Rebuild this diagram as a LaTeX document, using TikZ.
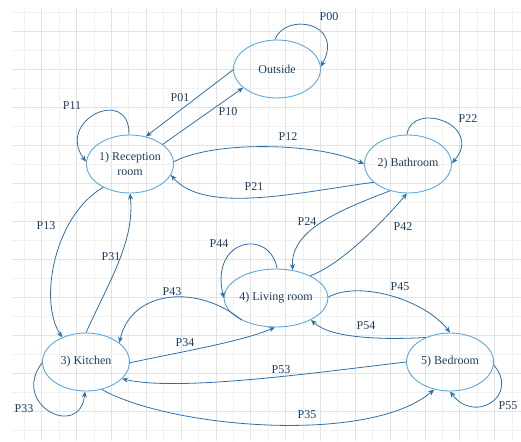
\documentclass[tikz,border=0pt]{standalone}
\usepackage{fontspec}
\setmainfont{Liberation Serif}
\usetikzlibrary{arrows.meta,shapes.geometric}
\definecolor{ellc}{HTML}{5DA9DD}
\definecolor{arrc}{HTML}{2F6FA8}
\definecolor{txtc}{HTML}{1F3D63}
\definecolor{gmin}{HTML}{F1F1F1}
\definecolor{gmaj}{HTML}{E2E2E2}
\begin{document}
\begin{tikzpicture}[x=1pt,y=-1pt,
  state/.style={ellipse,draw=ellc,line width=0.9pt,minimum width=87pt,minimum height=58pt,inner sep=0pt,text=txtc,font=\fontsize{12}{15}\selectfont,align=center},
  tr/.style={draw=arrc,line width=0.8pt,-{Stealth[length=6pt,width=5pt]}},
  lbl/.style={text=txtc,font=\fontsize{12}{13}\selectfont,inner sep=0pt}]
\useasboundingbox (0,0) rectangle (521,441);
% grid
\foreach \k in {0,...,28}{%
  \ifodd\k
    \draw[gmaj,line width=0.8pt] ({24.3+17.42*\k},8) -- ({24.3+17.42*\k},441);
  \else
    \draw[gmin,line width=0.8pt] ({24.3+17.42*\k},8) -- ({24.3+17.42*\k},441);
  \fi}
\foreach \k in {0,...,22}{%
  \ifodd\k
    \draw[gmaj,line width=0.8pt] (12,{12+19*\k}) -- (521,{12+19*\k});
  \else
    \draw[gmin,line width=0.8pt] (12,{12+19*\k}) -- (521,{12+19*\k});
  \fi}
% states
\node[state] (o) at (277,69) {Outside};
\node[state] (r) at (130,164) {1) Reception\\room};
\node[state] (b) at (408,164) {2) Bathroom};
\node[state] (k) at (86,362) {3) Kitchen};
\node[state] (l) at (276,298) {4) Living room};
\node[state] (d) at (450,362) {5) Bedroom};
% transitions
\draw[tr] (o.94) .. controls (285,12) and (345,22) .. (o.3);
\draw[tr] (o.181) -- (r.60);
\draw[tr] (r.31) -- (o.209);
\draw[tr] (r.92) .. controls (130,85) and (55,120) .. (r.177);
\draw[tr] (r.3) .. controls (215,140) and (320,143) .. (b.180);
\draw[tr] (b.208) .. controls (300,192) and (205,215) .. (r.345);
\draw[tr] (b.92) .. controls (412,100) and (485,125) .. (b.1);
\draw[tr] (r.221) .. controls (55,215) and (38,300) .. (k.134);
\draw[tr] (k.90) .. controls (110,280) and (135,240) .. (r.270);
\draw[tr] (b.236) .. controls (340,210) and (290,230) .. (l.59);
\draw[tr] (l.33) .. controls (340,265) and (380,225) .. (b.268);
\draw[tr] (l.88) .. controls (270,228) and (210,238) .. (l.180);
\draw[tr] (l.213) .. controls (200,285) and (132,288) .. (k.30);
\draw[tr] (k.359) .. controls (180,352) and (240,342) .. (l.268);
\draw[tr] (l.1) .. controls (360,280) and (425,300) .. (d.90);
\draw[tr] (d.135) .. controls (380,340) and (330,338) .. (l.328);
\draw[tr] (d.180) .. controls (320,372) and (180,392) .. (k.335);
\draw[tr] (k.300) .. controls (170,428) and (370,445) .. (d.240);
\draw[tr] (k.181) .. controls (10,405) and (80,440) .. (k.268);
\draw[tr] (d.356) .. controls (520,395) and (475,425) .. (d.270);
% labels
\node[lbl] (l00) at (329,17) {P00};
\node[lbl] (l01) at (180,98) {P01};
\node[lbl] (l10) at (228,112) {P10};
\node[lbl] (l11) at (72,106) {P11};
\node[lbl] (l12) at (288,137) {P12};
\node[lbl] (l21) at (254,187) {P21};
\node[lbl] (l22) at (468,119) {P22};
\node[lbl] (l13) at (46,226) {P13};
\node[lbl] (l31) at (111,257) {P31};
\node[lbl] (l24) at (307,222) {P24};
\node[lbl] (l42) at (403,227) {P42};
\node[lbl] (l44) at (219,244) {P44};
\node[lbl] (l43) at (172,292) {P43};
\node[lbl] (l34) at (185,343) {P34};
\node[lbl] (l45) at (400,287) {P45};
\node[lbl] (l54) at (366,326) {P54};
\node[lbl] (l53) at (281,370) {P53};
\node[lbl] (l35) at (307,415) {P35};
\node[lbl] (l33) at (24,409) {P33};
\node[lbl] (l55) at (508,406) {P55};
\end{tikzpicture}
\end{document}
